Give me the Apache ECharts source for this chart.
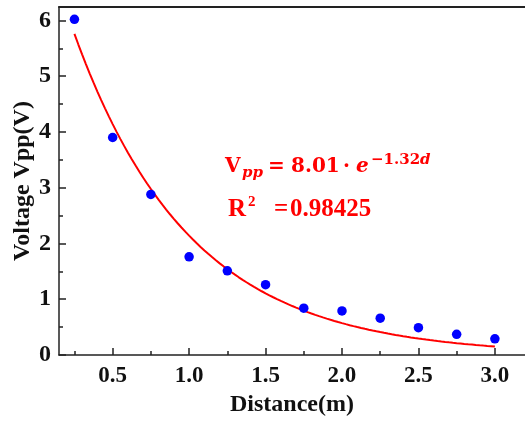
<!DOCTYPE html>
<html>
<head>
<meta charset="utf-8">
<script src="https://cdn.jsdelivr.net/npm/echarts@6/dist/echarts.min.js"></script>
<style>
  html, body { margin: 0; padding: 0; background: #fff; }
  #chart { width: 525px; height: 426px; }
</style>
</head>
<body>
<div id="chart"></div>
<script>
// Measured peak-to-peak voltage against distance
const distance = [0.25, 0.5, 0.75, 1.0, 1.25, 1.5, 1.75, 2.0, 2.25, 2.5, 2.75, 3.0];
const voltage  = [6.02, 3.90, 2.88, 1.76, 1.51, 1.26, 0.84, 0.79, 0.66, 0.49, 0.37, 0.29];

// Exponential fit Vpp = A * exp(-k d), coefficients as reported on the chart
const fitA = 8.01;
const fitK = 1.32;
const fitR2 = '0.98425';

// Tick positions
const xMajorTicks = [0.5, 1.0, 1.5, 2.0, 2.5, 3.0];
const xMinorTicks = [0.25, 0.75, 1.25, 1.75, 2.25, 2.75];
const yMajorTicks = [0, 1, 2, 3, 4, 5, 6];
const yMinorTicks = [0.5, 1.5, 2.5, 3.5, 4.5, 5.5];

const scatterData = distance.map((d, i) => [d, voltage[i]]);
const fitData = [];
for (let i = 0; i <= 110; i++) {
  const d = distance[0] + (distance[distance.length - 1] - distance[0]) * i / 110;
  fitData.push([d, fitA * Math.exp(-fitK * d)]);
}

const FONT = '"Liberation Serif", "Times New Roman", serif';
const MATH = '"DejaVu Serif", serif';
const AX = '#222';
const RED = '#ff0000';
const X_MIN = 0.149, X_MAX = 3.197, Y_MIN = 0, Y_MAX = 6.24;

function txt(x, y, text, font, size, italic) {
  return {
    type: 'text', x: x, y: y, z: 10,
    style: {
      text: text, fontFamily: font, fontWeight: 'bold', fontStyle: italic ? 'italic' : 'normal',
      fontSize: size, fill: RED, textVerticalAlign: 'middle'
    }
  };
}

const chart = echarts.init(document.getElementById('chart'), null, { renderer: 'canvas' });
chart.setOption({
  animation: false,
  backgroundColor: '#fff',
  grid: { left: 59, right: 0, top: 7, bottom: 71, outerBoundsMode: 'none', containLabel: false },
  xAxis: [
    {
      type: 'value', min: X_MIN, max: X_MAX, position: 'bottom',
      name: 'Distance(m)', nameLocation: 'middle', nameGap: 38, nameMoveOverlap: false,
      nameTextStyle: { fontFamily: FONT, fontWeight: 'bold', fontSize: 24, color: '#111' },
      axisLine: { show: true, onZero: false, lineStyle: { color: AX, width: 1.5 } },
      axisTick: { show: true, inside: true, length: 7, customValues: xMajorTicks, lineStyle: { color: AX, width: 1.5 } },
      axisLabel: { show: true, customValues: xMajorTicks, margin: 10, fontFamily: FONT, fontWeight: 'bold', fontSize: 23, color: '#111',
        formatter: v => v.toFixed(1) },
      splitLine: { show: false }
    },
    {
      type: 'value', min: X_MIN, max: X_MAX, position: 'bottom',
      axisLine: { show: false },
      axisTick: { show: true, inside: true, length: 4, customValues: xMinorTicks, lineStyle: { color: AX, width: 1.5 } },
      axisLabel: { show: false },
      splitLine: { show: false }
    },
    {
      type: 'value', min: X_MIN, max: X_MAX, position: 'top',
      axisLine: { show: true, onZero: false, lineStyle: { color: AX, width: 2 } },
      axisTick: { show: false }, axisLabel: { show: false }, splitLine: { show: false }
    }
  ],
  yAxis: [
    {
      type: 'value', min: Y_MIN, max: Y_MAX, position: 'left',
      name: 'Voltage Vpp(V)', nameLocation: 'middle', nameGap: 24, nameRotate: 90, nameMoveOverlap: false,
      nameTextStyle: { fontFamily: FONT, fontWeight: 'bold', fontSize: 24, color: '#111' },
      axisLine: { show: true, onZero: false, lineStyle: { color: AX, width: 1.5 } },
      axisTick: { show: true, inside: true, length: 7, customValues: yMajorTicks, lineStyle: { color: AX, width: 1.5 } },
      axisLabel: { show: true, customValues: yMajorTicks, margin: 8, fontFamily: FONT, fontWeight: 'bold', fontSize: 24, color: '#111' },
      splitLine: { show: false }
    },
    {
      type: 'value', min: Y_MIN, max: Y_MAX, position: 'left',
      axisLine: { show: false },
      axisTick: { show: true, inside: true, length: 4, customValues: yMinorTicks, lineStyle: { color: AX, width: 1.5 } },
      axisLabel: { show: false },
      splitLine: { show: false }
    }
  ],
  series: [
    {
      type: 'line', data: fitData, xAxisIndex: 0, yAxisIndex: 0,
      showSymbol: false, smooth: false,
      lineStyle: { color: RED, width: 2 }, z: 2
    },
    {
      type: 'scatter', data: scatterData, xAxisIndex: 0, yAxisIndex: 0,
      symbol: 'circle', symbolSize: 9.5,
      itemStyle: { color: '#0000ff', opacity: 1 }, z: 3
    }
  ],
  graphic: [
    // fit equation
    txt(225, 167, 'V', MATH, 20, false),
    txt(242, 173, 'pp', MATH, 15, true),
    txt(268, 167, '=', MATH, 20, false),
    txt(291, 167, fitA.toFixed(2), MATH, 20, false),
    txt(343, 167, '\u00b7', MATH, 20, false),
    txt(356, 167, 'e', MATH, 20, true),
    txt(371, 160, '\u2212' + fitK.toFixed(2), MATH, 15, false),
    txt(420, 160, 'd', MATH, 15, true),
    // goodness of fit
    txt(228, 209.5, 'R', FONT, 25, false),
    txt(248, 202.5, '2', FONT, 15, false),
    txt(274, 209.5, '=', FONT, 25, false),
    txt(290, 209.5, fitR2, FONT, 25, false)
  ]
});
</script>
</body>
</html>
